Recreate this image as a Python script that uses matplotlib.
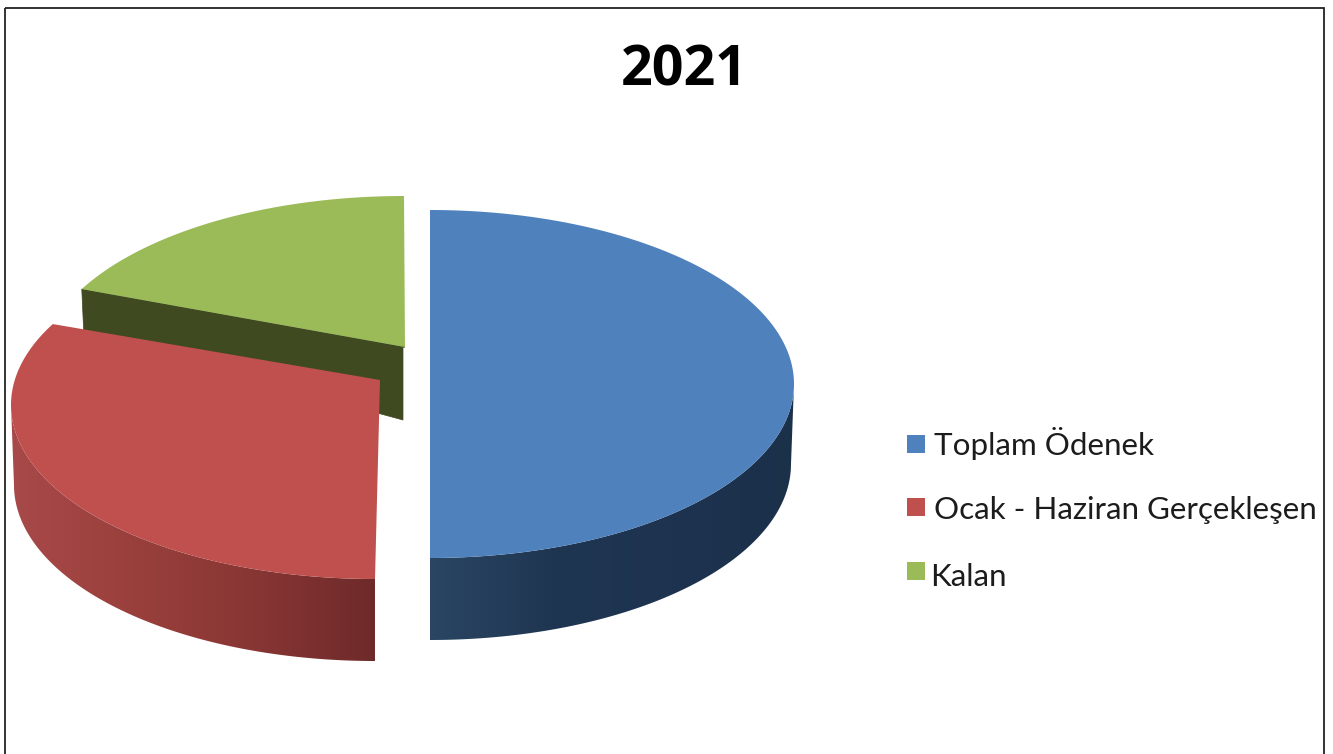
import numpy as np
import matplotlib
matplotlib.use("Agg")
import matplotlib.pyplot as plt
from matplotlib.colors import LinearSegmentedColormap
from matplotlib.patches import Polygon, Rectangle

title = "2021"
categories = ["Toplam Ödenek", "Ocak - Haziran Gerçekleşen", "Kalan"]
values = [50.0, 32.7, 17.3]
colors = ["#4f81bd", "#c0504d", "#9bbb59"]

W, H = 1333, 754
fig = plt.figure(figsize=(W / 100, H / 100), dpi=100)
ax = fig.add_axes([0, 0, 1, 1])

# slice geometry: arc centre, apex, radii
CX = [430, 375, 404]
CY = [384, 405, 370]
APEX = [(430, 384), (380, 380), (405, 347)]
RX, RY, DEPTH = 364, 174, 80

spans = np.array(values) / sum(values) * 360
starts = np.concatenate([[0], np.cumsum(spans)[:-1]])


def arc(i, a, b, rx=RX, ry=RY, dy=0, n=200):
    t = np.radians(np.linspace(a, b, n))
    return np.column_stack([CX[i] + rx * np.sin(t), CY[i] + dy - ry * np.cos(t)])


def wall(i, a, b, stops, x0, x1):
    top = arc(i, a, b)
    bot = arc(i, a, b, rx=RX - 3, ry=RY + 2, dy=DEPTH)[::-1]
    poly = Polygon(np.vstack([top, bot]), closed=True, fc="none", ec="none", transform=ax.transData)
    ax.add_patch(poly)
    cmap = LinearSegmentedColormap.from_list("w", stops)
    im = ax.imshow(np.linspace(0, 1, 256)[None, :], extent=(x0, x1, 700, 300),
                   cmap=cmap, aspect="auto", zorder=1, interpolation="bilinear")
    im.set_clip_path(poly)


# green: cut face seen from the front
g_start = starts[2]
gc = arc(2, g_start, g_start, n=1)[0]
ax.add_patch(Polygon([APEX[2], gc, (gc[0] + 2, gc[1] + 44), (403, 420), (403, 347)],
                     closed=True, fc="#3f4a20", ec="#3f4a20", lw=0.5, zorder=1))
ax.add_patch(Polygon(np.vstack([[APEX[2]], arc(2, starts[2], 360)]), closed=True,
                     fc=colors[2], ec="none", zorder=2))

# red
wall(1, 180, 270, ["#a8494a", "#9a403c", "#873634", "#6e2a2a"], 10, 376)
ax.add_patch(Polygon(np.vstack([[APEX[1]], arc(1, starts[1], starts[1] + spans[1])]),
                     closed=True, fc=colors[1], ec="none", zorder=3))

# blue
wall(0, 90, 180, ["#2a4663", "#1f3652", "#1d3350", "#1b3049"], 430, 794)
ax.add_patch(Polygon(np.vstack([[APEX[0]], arc(0, 0, spans[0])]), closed=True,
                     fc=colors[0], ec="none", zorder=3))

# legend
box_y = [435, 498, 562]
text_y = [443, 510, 577]
text_x = [934, 934, 930]
for c, name, by, ty, tx in zip(colors, categories, box_y, text_y, text_x):
    ax.add_patch(Rectangle((907, by), 18, 18, fc=c, ec="none", zorder=3))
    ax.text(tx, ty, name, fontsize=22.6, family="Lato", color="#1c1c1c", va="center", ha="left")

ax.text(684, 71, title, fontsize=40, family="Open Sans", fontweight="bold",
        color="black", ha="center", va="center")

# frame
ax.add_patch(Rectangle((5, 8), 1319, 800, fc="none", ec="#222222", lw=1.3, zorder=5))

ax.set_xlim(0, W)
ax.set_ylim(H, 0)
ax.axis("off")
fig.savefig("out.png", dpi=100, facecolor="white")
